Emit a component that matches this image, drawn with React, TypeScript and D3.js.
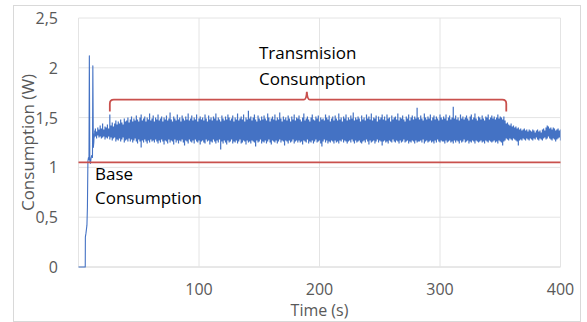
import React from "react";
import * as d3 from "d3";

// y axis ticks and their labels (decimal comma as in the source)
const yTicks = [0, 0.5, 1, 1.5, 2, 2.5];
const yTickLabels = ["0", "0,5", "1", "1,5", "2", "2,5"];
const xTicks = [100, 200, 300, 400];
const xTickLabels = ["100", "200", "300", "400"];

// start-up transient (time in s, consumption in W)
const startTimes = [0, 5.6, 5.7, 6.2, 6.6, 7.0, 7.4, 7.8, 8.3, 8.7, 9.0, 9.4, 9.9, 10.4, 11.0, 11.6, 11.9, 12.3, 12.7, 13];
const startValues = [0, 0, 0.3, 0.34, 0.38, 0.42, 0.6, 1.06, 1.1, 1.08, 2.12, 1.06, 1.04, 1.09, 1.12, 1.1, 2.02, 1.2, 1.25, 1.34];

// steady part: highest and lowest reading in each second, t = 13 s .. 400 s
const bandStart = 13;
const bandHigh = [
  1.37, 1.39, 1.36, 1.4, 1.38, 1.42, 1.39, 1.44, 1.38, 1.41,
  1.4, 1.43, 1.39, 1.53, 1.42, 1.45, 1.41, 1.44, 1.47, 1.43,
  1.46, 1.44, 1.48, 1.45, 1.43, 1.49, 1.46, 1.47, 1.5, 1.45,
  1.48, 1.51, 1.46, 1.49, 1.47, 1.52, 1.48, 1.46, 1.5, 1.53,
  1.47, 1.49, 1.51, 1.46, 1.5, 1.48, 1.54, 1.47, 1.49, 1.52,
  1.46, 1.5, 1.48, 1.53, 1.47, 1.49, 1.51, 1.46, 1.5, 1.48,
  1.52, 1.47, 1.49, 1.55, 1.48, 1.46, 1.51, 1.49, 1.47, 1.53,
  1.48, 1.5, 1.46, 1.52, 1.49, 1.47, 1.51, 1.48, 1.54, 1.47,
  1.49, 1.52, 1.47, 1.5, 1.48, 1.53, 1.46, 1.49, 1.51, 1.48,
  1.5, 1.47, 1.53, 1.49, 1.46, 1.52, 1.48, 1.5, 1.47, 1.51,
  1.49, 1.54, 1.47, 1.5, 1.48, 1.46, 1.52, 1.49, 1.47, 1.51,
  1.48, 1.53, 1.5, 1.47, 1.49, 1.52, 1.46, 1.5, 1.48, 1.54,
  1.47, 1.49, 1.51, 1.48, 1.53, 1.46, 1.5, 1.48, 1.57, 1.49,
  1.51, 1.47, 1.5, 1.53, 1.48, 1.46, 1.52, 1.49, 1.47, 1.51,
  1.48, 1.52, 1.49, 1.47, 1.54, 1.5, 1.46, 1.49, 1.51, 1.48,
  1.53, 1.47, 1.5, 1.48, 1.55, 1.49, 1.46, 1.51, 1.48, 1.5,
  1.47, 1.52, 1.49, 1.46, 1.51, 1.48, 1.53, 1.47, 1.5, 1.49,
  1.52, 1.48, 1.46, 1.5, 1.54, 1.47, 1.49, 1.51, 1.48, 1.46,
  1.5, 1.53, 1.48, 1.47, 1.51, 1.49, 1.52, 1.46, 1.5, 1.48,
  1.49, 1.47, 1.53, 1.5, 1.48, 1.52, 1.46, 1.49, 1.51, 1.47,
  1.52, 1.49, 1.47, 1.54, 1.48, 1.5, 1.46, 1.51, 1.49, 1.53,
  1.47, 1.5, 1.48, 1.52, 1.49, 1.55, 1.47, 1.5, 1.48, 1.51,
  1.49, 1.46, 1.52, 1.48, 1.5, 1.47, 1.53, 1.49, 1.51, 1.48,
  1.54, 1.47, 1.5, 1.49, 1.52, 1.46, 1.51, 1.48, 1.5, 1.53,
  1.48, 1.51, 1.47, 1.53, 1.49, 1.5, 1.46, 1.52, 1.48, 1.5,
  1.51, 1.48, 1.54, 1.47, 1.5, 1.49, 1.52, 1.48, 1.46, 1.51,
  1.49, 1.53, 1.47, 1.5, 1.52, 1.48, 1.51, 1.49, 1.6, 1.5,
  1.48, 1.52, 1.49, 1.47, 1.54, 1.5, 1.48, 1.51, 1.49, 1.53,
  1.47, 1.5, 1.52, 1.48, 1.51, 1.49, 1.47, 1.53, 1.5, 1.48,
  1.51, 1.49, 1.53, 1.47, 1.5, 1.52, 1.48, 1.5, 1.61, 1.49,
  1.52, 1.48, 1.5, 1.47, 1.53, 1.49, 1.51, 1.48, 1.5, 1.52,
  1.49, 1.47, 1.51, 1.53, 1.48, 1.5, 1.54, 1.49, 1.47, 1.51,
  1.5, 1.48, 1.52, 1.49, 1.47, 1.51, 1.5, 1.53, 1.48, 1.5,
  1.52, 1.49, 1.51, 1.48, 1.5, 1.53, 1.49, 1.51, 1.5, 1.48,
  1.51, 1.47, 1.44, 1.45, 1.43, 1.42, 1.44, 1.41, 1.42, 1.4,
  1.41, 1.39, 1.4, 1.38, 1.39, 1.37, 1.38, 1.39, 1.37, 1.38,
  1.36, 1.38, 1.37, 1.36, 1.38, 1.37, 1.35, 1.37, 1.38, 1.36,
  1.37, 1.35, 1.38, 1.39, 1.37, 1.4, 1.42, 1.41, 1.39, 1.4,
  1.38, 1.4, 1.39, 1.37, 1.38, 1.39, 1.37, 1.38,
];
const bandLow = [
  1.3, 1.31, 1.29, 1.32, 1.3, 1.31, 1.29, 1.3, 1.31, 1.28,
  1.3, 1.29, 1.31, 1.28, 1.3, 1.27, 1.29, 1.3, 1.26, 1.28,
  1.27, 1.29, 1.26, 1.28, 1.3, 1.25, 1.27, 1.28, 1.26, 1.29,
  1.26, 1.28, 1.25, 1.27, 1.29, 1.26, 1.24, 1.28, 1.26, 1.2,
  1.27, 1.25, 1.28, 1.26, 1.24, 1.27, 1.25, 1.28, 1.26, 1.27,
  1.25, 1.28, 1.26, 1.24, 1.27, 1.25, 1.28, 1.26, 1.23, 1.27,
  1.26, 1.24, 1.28, 1.25, 1.27, 1.26, 1.23, 1.28, 1.25, 1.27,
  1.24, 1.27, 1.26, 1.28, 1.25, 1.22, 1.27, 1.26, 1.24, 1.28,
  1.26, 1.25, 1.27, 1.24, 1.28, 1.26, 1.25, 1.27, 1.23, 1.26,
  1.27, 1.25, 1.24, 1.28, 1.26, 1.27, 1.23, 1.26, 1.25, 1.28,
  1.26, 1.24, 1.27, 1.25, 1.28, 1.18, 1.26, 1.24, 1.27, 1.25,
  1.23, 1.27, 1.25, 1.26, 1.28, 1.24, 1.26, 1.25, 1.27, 1.24,
  1.26, 1.28, 1.24, 1.25, 1.27, 1.26, 1.23, 1.27, 1.25, 1.26,
  1.24, 1.27, 1.26, 1.25, 1.21, 1.27, 1.25, 1.26, 1.28, 1.24,
  1.26, 1.25, 1.27, 1.24, 1.26, 1.28, 1.25, 1.23, 1.27, 1.26,
  1.25, 1.27, 1.24, 1.26, 1.28, 1.25, 1.27, 1.26, 1.22, 1.27,
  1.26, 1.24, 1.27, 1.25, 1.26, 1.28, 1.24, 1.26, 1.27, 1.25,
  1.27, 1.25, 1.26, 1.23, 1.27, 1.26, 1.25, 1.28, 1.24, 1.26,
  1.25, 1.27, 1.24, 1.26, 1.28, 1.25, 1.26, 1.27, 1.24, 1.21,
  1.26, 1.28, 1.25, 1.27, 1.24, 1.26, 1.25, 1.27, 1.26, 1.24,
  1.27, 1.25, 1.26, 1.24, 1.27, 1.26, 1.28, 1.25, 1.27, 1.26,
  1.24, 1.26, 1.27, 1.25, 1.28, 1.26, 1.24, 1.27, 1.25, 1.26,
  1.27, 1.25, 1.24, 1.26, 1.27, 1.25, 1.28, 1.26, 1.23, 1.27,
  1.25, 1.26, 1.27, 1.24, 1.26, 1.28, 1.25, 1.27, 1.26, 1.22,
  1.26, 1.27, 1.25, 1.26, 1.24, 1.27, 1.26, 1.25, 1.28, 1.26,
  1.25, 1.27, 1.26, 1.24, 1.27, 1.25, 1.26, 1.28, 1.25, 1.26,
  1.27, 1.24, 1.26, 1.25, 1.27, 1.26, 1.24, 1.27, 1.25, 1.26,
  1.26, 1.27, 1.25, 1.28, 1.24, 1.26, 1.27, 1.25, 1.26, 1.27,
  1.25, 1.26, 1.24, 1.27, 1.25, 1.28, 1.26, 1.25, 1.27, 1.26,
  1.26, 1.24, 1.27, 1.25, 1.26, 1.27, 1.25, 1.26, 1.24, 1.27,
  1.25, 1.27, 1.26, 1.24, 1.27, 1.25, 1.26, 1.28, 1.25, 1.26,
  1.27, 1.24, 1.26, 1.25, 1.27, 1.26, 1.24, 1.27, 1.26, 1.25,
  1.26, 1.27, 1.25, 1.26, 1.24, 1.27, 1.26, 1.25, 1.27, 1.26,
  1.25, 1.26, 1.27, 1.25, 1.26, 1.24, 1.27, 1.26, 1.25, 1.22,
  1.26, 1.27, 1.29, 1.28, 1.27, 1.29, 1.28, 1.27, 1.29, 1.28,
  1.27, 1.26, 1.22, 1.27, 1.28, 1.27, 1.29, 1.28, 1.27, 1.29,
  1.28, 1.27, 1.29, 1.28, 1.27, 1.29, 1.28, 1.3, 1.28, 1.27,
  1.29, 1.28, 1.27, 1.29, 1.3, 1.28, 1.29, 1.31, 1.29, 1.28,
  1.27, 1.29, 1.28, 1.26, 1.28, 1.29, 1.3, 1.27,
];

const baseConsumption = 1.05;
// brace over the transmission period: [from, middle, to] in s
const braceTimes = [26, 189.5, 355];
const braceLevel = 1.68;
const braceEnd = 1.56;
const braceTip = 1.76;

const W = 587;
const H = 322;
const font = "'Open Sans', 'Noto Sans', sans-serif";
const blue = "#4472c4";
const red = "#c9504d";

export default function App() {
  const x = d3.scaleLinear().domain([0, 400]).range([78.5, 560.5]);
  const y = d3.scaleLinear().domain([0, 2.5]).range([267, 18]);

  const startPts: [number, number][] = startTimes.map((t, i) => [t, startValues[i]]);
  const startPath = d3
    .line<[number, number]>()
    .x((d) => x(d[0]))
    .y((d) => y(d[1]))(startPts);

  const bandIdx = bandHigh.map((_, i) => i);
  const bandPath = d3
    .area<number>()
    .x((i) => x(bandStart + i))
    .y0((i) => y(bandLow[i]))
    .y1((i) => y(bandHigh[i]))
    .curve(d3.curveStep)(bandIdx);

  const [b0, bm, b1] = braceTimes.map((t) => x(t));
  const yl = y(braceLevel);
  const ye = y(braceEnd);
  const yt = y(braceTip);
  const brace = `M${b0},${ye} L${b0},${yl + 4} Q${b0},${yl} ${b0 + 4},${yl} L${bm - 3},${yl} Q${bm - 0.5},${yl} ${bm},${yt} Q${bm + 0.5},${yl} ${bm + 3},${yl} L${b1 - 4},${yl} Q${b1},${yl} ${b1},${yl + 4} L${b1},${ye}`;

  return (
    <svg
      width={W}
      height={H}
      style={{ position: "absolute", left: 0, top: 0, background: "#fff" }}
      fontFamily={font}
    >
      <rect x={13.5} y={5.5} width={567} height={316} fill="#fff" stroke="#d9d9d9" />

      {/* grid */}
      {yTicks.map((t) => (
        <line key={"gy" + t} x1={x(0)} x2={x(400)} y1={y(t)} y2={y(t)} stroke={t === 0 ? "#d0d0d0" : "#e4e4e4"} />
      ))}
      {[0, ...xTicks].map((t) => (
        <line key={"gx" + t} x1={x(t)} x2={x(t)} y1={y(2.5)} y2={y(0)} stroke="#e4e4e4" />
      ))}

      {/* tick labels */}
      {yTicks.map((t, i) => (
        <text key={"ty" + t} x={58} y={y(t) + 6} textAnchor="end" fontSize={16} fill="#595959">
          {yTickLabels[i]}
        </text>
      ))}
      {xTicks.map((t, i) => (
        <text key={"tx" + t} x={x(t)} y={295} textAnchor="middle" fontSize={16} fill="#595959">
          {xTickLabels[i]}
        </text>
      ))}
      <text x={x(200)} y={316} textAnchor="middle" fontSize={16} fill="#595959">
        Time (s)
      </text>
      <text
        transform={`translate(34,${y(1.25)}) rotate(-90)`}
        textAnchor="middle"
        fontSize={17}
        fill="#595959"
      >
        Consumption (W)
      </text>

      {/* measured consumption */}
      <path d={startPath || ""} fill="none" stroke={blue} strokeWidth={1.1} strokeLinejoin="round" />
      <path d={bandPath || ""} fill={blue} stroke="none" />

      {/* base consumption and brace */}
      <line x1={x(0)} x2={x(400)} y1={y(baseConsumption)} y2={y(baseConsumption)} stroke={red} strokeWidth={1.8} />
      <path d={brace} fill="none" stroke={red} strokeWidth={1.8} />

      <text x={95} y={180} fontSize={17} fill="#000">Base</text>
      <text x={95} y={204} fontSize={17} fill="#000">Consumption</text>
      <text x={259} y={59} fontSize={17} fill="#000">Transmision</text>
      <text x={259} y={85} fontSize={17} fill="#000">Consumption</text>
    </svg>
  );
}
